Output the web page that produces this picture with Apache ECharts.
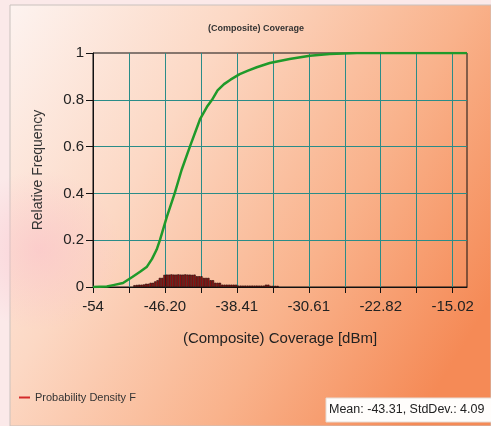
<!DOCTYPE html>
<html>
<head>
<meta charset="utf-8">
<script src="https://cdn.jsdelivr.net/npm/echarts@6/dist/echarts.min.js"></script>
<style>
html,body{margin:0;padding:0;background:#fbeeee;}
#chart{width:491px;height:426px;}
</style>
</head>
<body>
<div id="chart"></div>
<script>
// ---- data ----
var xMin = -54, xMax = -13.47, xStep = 3.8975;
var xTickLabels = ['-54', '-46.20', '-38.41', '-30.61', '-22.82', '-15.02'];
var yTickStep = 0.2;

// cumulative curve (Relative Frequency)
var cdfX = [-54, -52.5, -51.8, -50.75, -49.7, -48.9, -48.15, -47.6, -47.1, -46.75, -46.0, -45.15, -44.4, -43.5, -42.4, -41.65, -41.1, -40.5, -39.8, -39.1, -38.1, -37.2, -36.25, -34.85, -32.7, -30.5, -28.35, -25.4, -13.47];
var cdfY = [0, 0.002, 0.008, 0.017, 0.044, 0.065, 0.087, 0.12, 0.16, 0.2, 0.3, 0.4, 0.5, 0.6, 0.717, 0.77, 0.8, 0.84, 0.867, 0.886, 0.91, 0.925, 0.939, 0.957, 0.974, 0.988, 0.996, 1.0, 1.0];

// probability density histogram
var pdfX = [-49.5, -49.25, -49.0, -48.75, -48.5, -48.25, -48.0, -47.75, -47.5, -47.25, -47.0, -46.75, -46.5,
            -46.25, -46.0, -45.75, -45.5, -45.25, -45.0, -44.75, -44.5, -44.25, -44.0, -43.75, -43.5, -43.25, -43.0,
            -42.75, -42.5, -42.25, -42.0, -41.75, -41.5, -41.25, -41.0, -40.75, -40.5, -40.25,
            -40.0, -39.75, -39.5, -39.25, -39.0, -38.75, -38.5,
            -38.25, -38.0, -37.75, -37.5, -37.25, -37.0, -36.75, -36.5, -36.25, -36.0, -35.75, -35.5,
            -35.25, -35.0, -34.75, -34.5, -34.25, -34.0];
var pdfY = [0.008, 0.009, 0.010, 0.010, 0.011, 0.014, 0.014, 0.018, 0.018, 0.024, 0.029, 0.039, 0.039,
            0.052, 0.053, 0.053, 0.054, 0.053, 0.053, 0.054, 0.053, 0.053, 0.054, 0.053, 0.053, 0.052, 0.053,
            0.046, 0.046, 0.046, 0.039, 0.039, 0.039, 0.029, 0.029, 0.018, 0.018, 0.018,
            0.010, 0.010, 0.010, 0.010, 0.010, 0.010, 0.010,
            0.006, 0.006, 0.006, 0.006, 0.006, 0.006, 0.006, 0.006, 0.006, 0.006, 0.006, 0.006,
            0.010, 0.010, 0.005, 0.005, 0.005, 0.005];

var meanValue = '-43.31', stdDevValue = '4.09';

// ---- build ----
var cdfData = cdfX.map(function (x, i) { return [x, cdfY[i]]; });
var pdfData = pdfX.map(function (x, i) { return [x, pdfY[i]]; });

var chart = echarts.init(document.getElementById('chart'), null, {renderer: 'canvas'});
var font = 'Liberation Sans, Arial, sans-serif';

var option = {
  animation: false,
  backgroundColor: 'transparent',
  title: {
    text: '(Composite) Coverage',
    left: 203, top: 19,
    textStyle: {fontFamily: font, fontSize: 9, fontWeight: 'bold', color: '#333'}
  },
  legend: {
    left: 14, top: 387,
    itemWidth: 11, itemHeight: 2, icon: 'rect',
    textStyle: {fontFamily: font, fontSize: 11, color: '#333'},
    data: [{name: 'Probability Density F', itemStyle: {color: '#d42a2a', borderColor: '#d42a2a', borderWidth: 0}}]
  },
  grid: {
    left: 93, right: 24, top: 53, bottom: 139,
    show: true, borderColor: '#111', borderWidth: 1, backgroundColor: 'transparent'
  },
  xAxis: {
    type: 'value', min: xMin, max: xMax, interval: xStep,
    name: '(Composite) Coverage [dBm]', nameLocation: 'middle', nameGap: 44,
    nameTextStyle: {fontFamily: font, fontSize: 15, color: '#222'},
    axisLine: {show: true, lineStyle: {color: '#111', width: 1}},
    axisTick: {show: true, length: 6, lineStyle: {color: '#111'}},
    axisLabel: {
      fontFamily: font, fontSize: 15, color: '#222', margin: 12,
      showMaxLabel: false,
      formatter: function (v) {
        var r = (v - xMin) / xStep;
        var ri = Math.round(r);
        if (Math.abs(r - ri) > 0.01 || ri % 2 !== 0) return '';
        return xTickLabels[ri / 2] || '';
      }
    },
    splitLine: {show: true, showMinLine: false, showMaxLine: false, lineStyle: {color: '#2a8c88', width: 1}}
  },
  yAxis: {
    type: 'value', min: 0, max: 1, interval: yTickStep,
    name: 'Relative Frequency', nameLocation: 'middle', nameGap: 48,
    nameTextStyle: {fontFamily: font, fontSize: 14, color: '#333'},
    axisLine: {show: true, lineStyle: {color: '#111', width: 1}},
    axisTick: {show: true, length: 7, lineStyle: {color: '#111'}},
    axisLabel: {fontFamily: font, fontSize: 15, color: '#222', margin: 9},
    splitLine: {show: true, showMinLine: false, showMaxLine: false, lineStyle: {color: '#2a8c88', width: 1}}
  },
  series: [
    {
      name: 'Probability Density F', type: 'bar', data: pdfData,
      barWidth: 2.31, z: 3,
      itemStyle: {color: '#a01212', borderColor: '#1a0505', borderWidth: 0.6}
    },
    {
      name: 'Relative Frequency', type: 'line', data: cdfData,
      showSymbol: false, symbol: 'none', z: 4,
      lineStyle: {color: '#1f9a2a', width: 2.5}
    }
  ],
  graphic: [
    {type: 'rect', z: -30, shape: {x: 0, y: 0, width: 491, height: 426}, style: {fill: '#fbe9e9'}},
    {type: 'rect', z: -29, shape: {x: 10, y: 5, width: 481, height: 421},
      style: {
        fill: {type: 'linear', x: 0, y: 0, x2: 1, y2: 0.7,
          colorStops: [{offset: 0, color: '#fdf3f0'}, {offset: 0.35, color: '#fcd8c4'},
                       {offset: 0.7, color: '#f9b28b'}, {offset: 1, color: '#f58a56'}]},
        stroke: '#c9c1bd', lineWidth: 1
      }},
    {type: 'circle', z: -28, shape: {cx: 40, cy: 250, r: 80},
      style: {fill: {type: 'radial', x: 0.5, y: 0.5, r: 0.5,
        colorStops: [{offset: 0, color: 'rgba(250,190,200,0.55)'}, {offset: 1, color: 'rgba(250,190,200,0)'}]}}},
    {type: 'rect', z: 20, shape: {x: 326, y: 398, width: 170, height: 24},
      style: {fill: '#fffdfb', stroke: '#e6dcd6', lineWidth: 1}},
    {type: 'text', z: 21, left: 329, top: 403,
      style: {text: 'Mean: ' + meanValue + ', StdDev.: ' + stdDevValue, fontFamily: font, fontSize: 12.5, fill: '#222'}}
  ]
};
chart.setOption(option);
</script>
</body>
</html>
